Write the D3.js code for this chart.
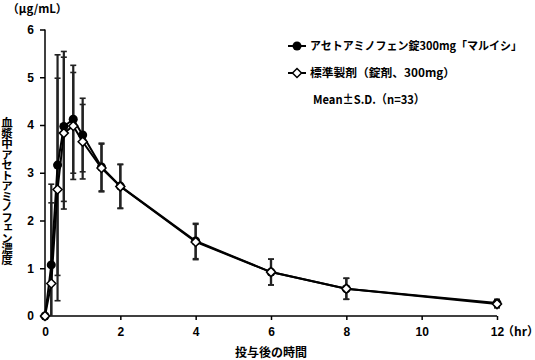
<!DOCTYPE html>
<html><head><meta charset="utf-8">
<script src="https://cdn.jsdelivr.net/npm/d3@7"></script>
<style>
html,body{margin:0;padding:0;background:#fff;}
svg{display:block;}
text{font-family:"Noto Sans CJK JP","Liberation Sans",Arial,sans-serif;fill:#000;}
.num{font-family:"Liberation Sans",Arial,sans-serif;font-weight:bold;font-size:12px;}
.halt{font-feature-settings:"halt" 1;}
</style></head>
<body>
<svg id="c" width="535" height="360"></svg>
<script>
const times = [0, 1/6, 1/3, 0.5, 0.75, 1, 1.5, 2, 4, 6, 8, 12];
const testMean = [0, 1.07, 3.16, 3.97, 4.12, 3.79, 3.12, 2.72, 1.57, 0.92, 0.57, 0.27];
const testSD   = [0, 1.69, 2.31, 1.57, 1.13, 0.77, 0.50, 0.46, 0.37, 0.27, 0.22, 0.08];
const refMean  = [0, 0.68, 2.65, 3.83, 3.98, 3.65, 3.10, 2.71, 1.55, 0.92, 0.57, 0.25];
const refSD    = [0, 1.69, 2.33, 1.59, 1.12, 0.78, 0.50, 0.46, 0.37, 0.27, 0.22, 0.08];
const xTicks = [0, 2, 4, 6, 8, 10, 12];
const yTicks = [0, 1, 2, 3, 4, 5, 6];
const seriesNames = ["アセトアミノフェン錠300mg「マルイシ」", "標準製剤（錠剤、300mg）"];
const noteText = "Mean±S.D.（n=33）";
const yUnit = "（μg/mL）";
const xUnit = "（hr）";
const xTitle = "投与後の時間";
const yTitle = "血漿中アセトアミノフェン濃度";

const svg = d3.select("#c");
const x = d3.scaleLinear().domain([0, 12]).range([45, 497]);
const y = d3.scaleLinear().domain([0, 6]).range([316, 29.5]);

// axes
const gx = svg.append("g").attr("transform", `translate(0,${y(0)})`)
  .call(d3.axisBottom(x).tickValues(xTicks).tickSize(4).tickPadding(7).tickFormat(d3.format("d")));
const gy = svg.append("g").attr("transform", `translate(${x(0)},0)`)
  .call(d3.axisLeft(y).tickValues(yTicks).tickSize(5).tickPadding(6).tickFormat(d3.format("d")));
[gx, gy].forEach(g => {
  g.select(".domain").attr("stroke", "#000").attr("stroke-width", 1.5);
  g.selectAll(".tick line").attr("stroke", "#000").attr("stroke-width", 1.5);
  g.selectAll(".tick text").attr("class", "num").attr("fill", "#000");
});
gx.select(".domain").attr("d", `M${x(0)},0H${x(12)}`);
gy.select(".domain").attr("d", `M0,${y(6)}V${y(0)}`);

const data = [
  {mean: testMean, sd: testSD},
  {mean: refMean, sd: refSD}
];

// error bars
data.forEach(s => {
  const g = svg.append("g");
  times.forEach((t, i) => {
    if (s.sd[i] <= 0) return;
    const top = s.mean[i] + s.sd[i];
    const lowRaw = s.mean[i] - s.sd[i];
    const low = Math.max(0, lowRaw);
    const cx = x(t);
    g.append("line").attr("x1", cx).attr("x2", cx).attr("y1", y(top)).attr("y2", y(low))
      .attr("stroke", "#222").attr("stroke-width", 2.2);
    g.append("line").attr("x1", cx - 3).attr("x2", cx + 3).attr("y1", y(top)).attr("y2", y(top))
      .attr("stroke", "#222").attr("stroke-width", 1.6);
    if (lowRaw >= 0)
      g.append("line").attr("x1", cx - 3).attr("x2", cx + 3).attr("y1", y(low)).attr("y2", y(low))
        .attr("stroke", "#222").attr("stroke-width", 1.6);
  });
});

// lines
const line = d3.line().x(d => x(d[0])).y(d => y(d[1]));
data.forEach(s => {
  svg.append("path").datum(times.map((t, i) => [t, s.mean[i]]))
    .attr("d", line).attr("fill", "none").attr("stroke", "#000").attr("stroke-width", 2);
});

// markers
const circ = d3.symbol().type(d3.symbolCircle).size(64);
const diam = d3.symbol().type(d3.symbolDiamond2).size(52);
svg.append("g").selectAll("path").data(times.map((t, i) => [t, testMean[i]])).join("path")
  .attr("d", circ).attr("transform", d => `translate(${x(d[0])},${y(d[1])})`)
  .attr("fill", "#000");
svg.append("g").selectAll("path").data(times.map((t, i) => [t, refMean[i]])).join("path")
  .attr("d", diam).attr("transform", d => `translate(${x(d[0])},${y(d[1])})`)
  .attr("fill", "#fff").attr("stroke", "#000").attr("stroke-width", 1.5);

// legend
const lg = svg.append("g");
const lx0 = 288, lx1 = 306;
const rows = [46, 73];
const lens = [212, 145];
lg.append("line").attr("x1", lx0).attr("x2", lx1).attr("y1", rows[0]).attr("y2", rows[0]).attr("stroke", "#000").attr("stroke-width", 2);
lg.append("path").attr("d", circ).attr("transform", `translate(${(lx0+lx1)/2},${rows[0]})`).attr("fill", "#000");
lg.append("line").attr("x1", lx0).attr("x2", lx1).attr("y1", rows[1]).attr("y2", rows[1]).attr("stroke", "#000").attr("stroke-width", 2);
lg.append("path").attr("d", diam).attr("transform", `translate(${(lx0+lx1)/2},${rows[1]})`).attr("fill", "#fff").attr("stroke", "#000").attr("stroke-width", 1.5);
seriesNames.forEach((n, i) => {
  lg.append("text").attr("x", 310).attr("y", rows[i]).attr("dy", "0.35em")
    .attr("font-size", 11.5).attr("font-weight", "bold")
    .attr("textLength", lens[i]).attr("lengthAdjust", "spacingAndGlyphs").text(n);
});
lg.append("text").attr("x", 313).attr("y", 100).attr("dy", "0.35em")
  .attr("font-size", 12).attr("font-weight", "bold")
  .attr("textLength", 112).attr("lengthAdjust", "spacingAndGlyphs").text(noteText);

// titles
svg.append("text").attr("class", "halt").attr("x", 13).attr("y", 9).attr("dy", "0.35em")
  .attr("font-size", 11.5).attr("font-weight", "bold").text(yUnit);
svg.append("text").attr("class", "halt").attr("x", 508).attr("y", 332).attr("dy", "0.35em")
  .attr("font-size", 12).attr("font-weight", "bold").text(xUnit);
svg.append("text").attr("x", 271).attr("y", 353).attr("dy", "0.35em").attr("text-anchor", "middle")
  .attr("font-size", 12).attr("font-weight", "bold").text(xTitle);
svg.append("text").attr("x", 7).attr("y", 117)
  .style("writing-mode", "vertical-rl").style("text-orientation", "upright")
  .attr("font-size", 11.5).attr("font-weight", "bold").attr("letter-spacing", -1).text(yTitle);
</script>
</body></html>
